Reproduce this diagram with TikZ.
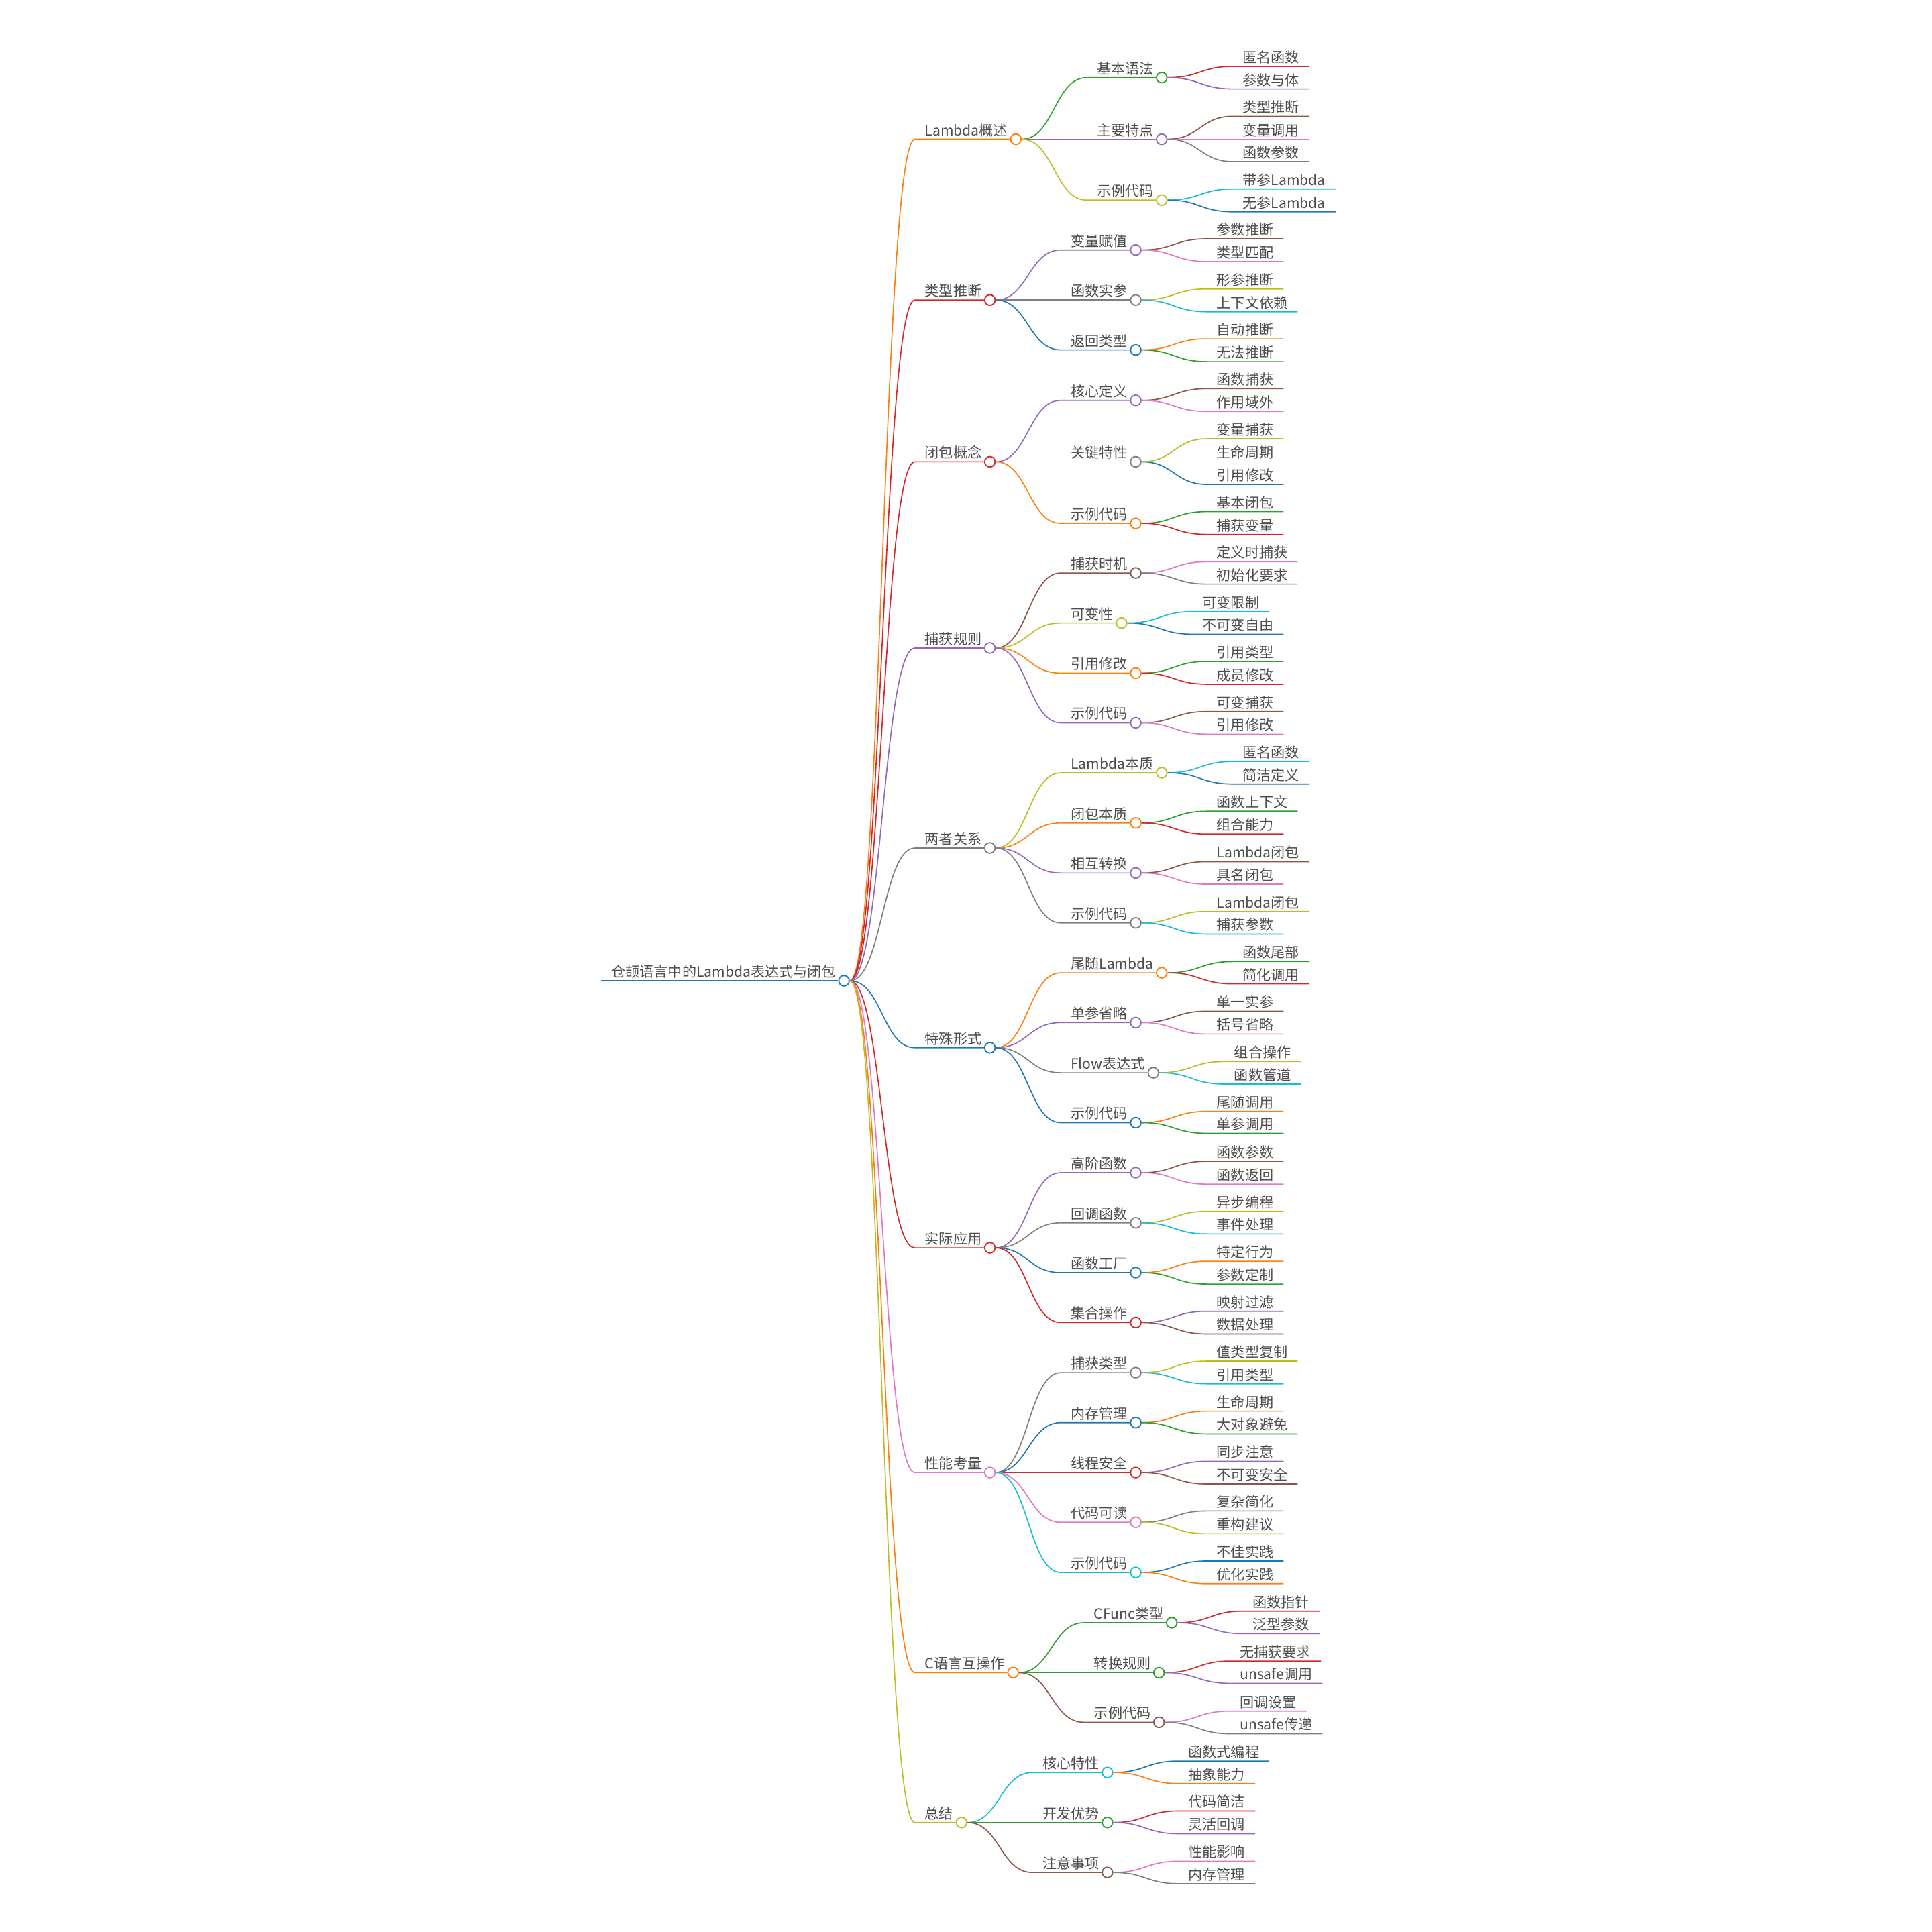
\documentclass[tikz,border=0pt]{standalone}
\usepackage{fontspec}
\setmainfont{Noto Sans CJK SC}
\usetikzlibrary{calc}
\definecolor{cblue}{HTML}{1F77B4}
\definecolor{corange}{HTML}{FF7F0E}
\definecolor{cgreen}{HTML}{2CA02C}
\definecolor{cred}{HTML}{D62728}
\definecolor{cpurple}{HTML}{9467BD}
\definecolor{cbrown}{HTML}{8C564B}
\definecolor{cpink}{HTML}{E377C2}
\definecolor{cgray}{HTML}{7F7F7F}
\definecolor{colive}{HTML}{BCBD22}
\definecolor{ccyan}{HTML}{17BECF}
\definecolor{txtc}{HTML}{4D4D4D}
\tikzset{
  lbl/.style={anchor=base west, inner xsep=8pt, inner ysep=0pt, text=txtc, font=\fontsize{11.5}{13}\selectfont},
  edge/.style={line width=0.9pt},
  dot/.style={circle, fill=white, line width=1pt, minimum size=8.5pt, inner sep=0pt},
}
\newcommand\mmleaf[5]{%
  \coordinate (#1a) at ($(#2c |- 0,#3)+(57.5,0)$);
  \node[lbl] (#1) at ([yshift=3pt]#1a) {#5};
  \draw[edge,#4] (#2c.east) .. controls +(26,0) and +(-26,0) .. (#1a) -- (#1a -| #1.east);
}
\newcommand\mmmid[5]{%
  \coordinate (#1a) at ($(#2c |- 0,#3)+(57.5,0)$);
  \node[lbl] (#1) at ([yshift=3pt]#1a) {#5};
  \node[dot,draw=#4] (#1c) at ($(#1a -| #1.east)+(-1.5,0)$) {};
  \draw[edge,#4] (#2c.east) .. controls +(26,0) and +(-26,0) .. (#1a) -- (#1c.west);
}
\begin{document}
\begin{tikzpicture}[x=1pt,y=-1pt]
\fill[white] (0,0) rectangle (1568,1568);
\useasboundingbox (0,0) rectangle (1568,1568);
% root
\coordinate (Ra) at (488,796);
\node[lbl] (R) at ([yshift=3pt]Ra) {仓颉语言中的Lambda表达式与闭包};
\node[dot,draw=cblue] (Rc) at ($(Ra -| R.east)+(-1.5,0)$) {};
\draw[cblue, line width=1.3pt] (Ra) -- (Rc.west);
% A
\mmmid{A}{R}{113}{corange}{Lambda概述}
\mmmid{A1}{A}{63}{cgreen}{基本语法}
\mmleaf{A1p}{A1}{53.9}{cred}{匿名函数}
\mmleaf{A1q}{A1}{72.2}{cpurple}{参数与体}
\mmmid{A2}{A}{113}{cpurple}{主要特点}
\mmleaf{A2p}{A2}{94.4}{cbrown}{类型推断}
\mmleaf{A2q}{A2}{113}{cpink}{变量调用}
\mmleaf{A2r}{A2}{131.2}{cgray}{函数参数}
\mmmid{A3}{A}{162.4}{colive}{示例代码}
\mmleaf{A3p}{A3}{153.4}{ccyan}{带参Lambda}
\mmleaf{A3q}{A3}{171.9}{cblue}{无参Lambda}
% B
\mmmid{B}{R}{243.5}{cred}{类型推断}
\mmmid{B1}{B}{202.9}{cpurple}{变量赋值}
\mmleaf{B1p}{B1}{193.8}{cbrown}{参数推断}
\mmleaf{B1q}{B1}{212.3}{cpink}{类型匹配}
\mmmid{B2}{B}{243.5}{cgray}{函数实参}
\mmleaf{B2p}{B2}{234.5}{colive}{形参推断}
\mmleaf{B2q}{B2}{253.0}{ccyan}{上下文依赖}
\mmmid{B3}{B}{284.0}{cblue}{返回类型}
\mmleaf{B3p}{B3}{275.0}{corange}{自动推断}
\mmleaf{B3q}{B3}{293.5}{cgreen}{无法推断}
% C
\mmmid{C}{R}{374.8}{cred}{闭包概念}
\mmmid{C1}{C}{324.9}{cpurple}{核心定义}
\mmleaf{C1p}{C1}{315.4}{cbrown}{函数捕获}
\mmleaf{C1q}{C1}{333.9}{cpink}{作用域外}
\mmmid{C2}{C}{374.8}{cgray}{关键特性}
\mmleaf{C2p}{C2}{356.1}{colive}{变量捕获}
\mmleaf{C2q}{C2}{374.8}{ccyan}{生命周期}
\mmleaf{C2r}{C2}{393.1}{cblue}{引用修改}
\mmmid{C3}{C}{424.7}{corange}{示例代码}
\mmleaf{C3p}{C3}{415.2}{cgreen}{基本闭包}
\mmleaf{C3q}{C3}{433.7}{cred}{捕获变量}
% D
\mmmid{D}{R}{525.9}{cpurple}{捕获规则}
\mmmid{D1}{D}{465.0}{cbrown}{捕获时机}
\mmleaf{D1p}{D1}{455.9}{cpink}{定义时捕获}
\mmleaf{D1q}{D1}{474.0}{cgray}{初始化要求}
\mmmid{D2}{D}{505.6}{colive}{可变性}
\mmleaf{D2p}{D2}{496.4}{ccyan}{可变限制}
\mmleaf{D2q}{D2}{514.7}{cblue}{不可变自由}
\mmmid{D3}{D}{546.3}{corange}{引用修改}
\mmleaf{D3p}{D3}{536.8}{cgreen}{引用类型}
\mmleaf{D3q}{D3}{555.3}{cred}{成员修改}
\mmmid{D4}{D}{586.6}{cpurple}{示例代码}
\mmleaf{D4p}{D4}{577.5}{cbrown}{可变捕获}
\mmleaf{D4q}{D4}{595.8}{cpink}{引用修改}
% E
\mmmid{E}{R}{688.2}{cgray}{两者关系}
\mmmid{E1}{E}{627.2}{colive}{Lambda本质}
\mmleaf{E1p}{E1}{618.0}{ccyan}{匿名函数}
\mmleaf{E1q}{E1}{636.3}{cblue}{简洁定义}
\mmmid{E2}{E}{667.9}{corange}{闭包本质}
\mmleaf{E2p}{E2}{658.4}{cgreen}{函数上下文}
\mmleaf{E2q}{E2}{676.9}{cred}{组合能力}
\mmmid{E3}{E}{708.5}{cpurple}{相互转换}
\mmleaf{E3p}{E3}{699.3}{cbrown}{Lambda闭包}
\mmleaf{E3q}{E3}{717.6}{cpink}{具名闭包}
\mmmid{E4}{E}{749.0}{cgray}{示例代码}
\mmleaf{E4p}{E4}{739.7}{colive}{Lambda闭包}
\mmleaf{E4q}{E4}{758.1}{ccyan}{捕获参数}
% F
\mmmid{F}{R}{850.3}{cblue}{特殊形式}
\mmmid{F1}{F}{789.5}{corange}{尾随Lambda}
\mmleaf{F1p}{F1}{780.4}{cgreen}{函数尾部}
\mmleaf{F1q}{F1}{798.5}{cred}{简化调用}
\mmmid{F2}{F}{829.9}{cpurple}{单参省略}
\mmleaf{F2p}{F2}{820.7}{cbrown}{单一实参}
\mmleaf{F2q}{F2}{839.2}{cpink}{括号省略}
\mmmid{F3}{F}{870.6}{cgray}{Flow表达式}
\mmleaf{F3p}{F3}{861.5}{colive}{组合操作}
\mmleaf{F3q}{F3}{879.8}{ccyan}{函数管道}
\mmmid{F4}{F}{911.1}{cblue}{示例代码}
\mmleaf{F4p}{F4}{902.0}{corange}{尾随调用}
\mmleaf{F4q}{F4}{919.8}{cgreen}{单参调用}
% G
\mmmid{G}{R}{1012.7}{cred}{实际应用}
\mmmid{G1}{G}{951.7}{cpurple}{高阶函数}
\mmleaf{G1p}{G1}{942.5}{cbrown}{函数参数}
\mmleaf{G1q}{G1}{961.0}{cpink}{函数返回}
\mmmid{G2}{G}{992.4}{cgray}{回调函数}
\mmleaf{G2p}{G2}{983.1}{colive}{异步编程}
\mmleaf{G2q}{G2}{1001.4}{ccyan}{事件处理}
\mmmid{G3}{G}{1032.8}{cblue}{函数工厂}
\mmleaf{G3p}{G3}{1023.6}{corange}{特定行为}
\mmleaf{G3q}{G3}{1042.1}{cgreen}{参数定制}
\mmmid{G4}{G}{1073.3}{cred}{集合操作}
\mmleaf{G4p}{G4}{1064.2}{cpurple}{映射过滤}
\mmleaf{G4q}{G4}{1082.6}{cbrown}{数据处理}
% H
\mmmid{H}{R}{1195.1}{cpink}{性能考量}
\mmmid{H1}{H}{1114.0}{cgray}{捕获类型}
\mmleaf{H1p}{H1}{1104.7}{colive}{值类型复制}
\mmleaf{H1q}{H1}{1123.0}{ccyan}{引用类型}
\mmmid{H2}{H}{1154.6}{cblue}{内存管理}
\mmleaf{H2p}{H2}{1145.3}{corange}{生命周期}
\mmleaf{H2q}{H2}{1163.7}{cgreen}{大对象避免}
\mmmid{H3}{H}{1195.1}{cred}{线程安全}
\mmleaf{H3p}{H3}{1186.0}{cpurple}{同步注意}
\mmleaf{H3q}{H3}{1204.3}{cbrown}{不可变安全}
\mmmid{H4}{H}{1235.5}{cpink}{代码可读}
\mmleaf{H4p}{H4}{1226.3}{cgray}{复杂简化}
\mmleaf{H4q}{H4}{1244.8}{colive}{重构建议}
\mmmid{H5}{H}{1276.2}{ccyan}{示例代码}
\mmleaf{H5p}{H5}{1266.9}{cblue}{不佳实践}
\mmleaf{H5q}{H5}{1285.3}{corange}{优化实践}
% I
\mmmid{I}{R}{1357.5}{corange}{C语言互操作}
\mmmid{I1}{I}{1317.0}{cgreen}{CFunc类型}
\mmleaf{I1p}{I1}{1307.6}{cred}{函数指针}
\mmleaf{I1q}{I1}{1325.9}{cpurple}{泛型参数}
\mmmid{I2}{I}{1357.5}{cgreen}{转换规则}
\mmleaf{I2p}{I2}{1348.1}{cred}{无捕获要求}
\mmleaf{I2q}{I2}{1366.2}{cpurple}{unsafe调用}
\mmmid{I3}{I}{1397.8}{cbrown}{示例代码}
\mmleaf{I3p}{I3}{1388.7}{cpink}{回调设置}
\mmleaf{I3q}{I3}{1407.1}{cgray}{unsafe传递}
% J
\mmmid{J}{R}{1479.1}{colive}{总结}
\mmmid{J1}{J}{1438.5}{ccyan}{核心特性}
\mmleaf{J1p}{J1}{1429.2}{cblue}{函数式编程}
\mmleaf{J1q}{J1}{1447.5}{corange}{抽象能力}
\mmmid{J2}{J}{1479.1}{cgreen}{开发优势}
\mmleaf{J2p}{J2}{1469.7}{cred}{代码简洁}
\mmleaf{J2q}{J2}{1488.2}{cpurple}{灵活回调}
\mmmid{J3}{J}{1519.6}{cbrown}{注意事项}
\mmleaf{J3p}{J3}{1510.5}{cpink}{性能影响}
\mmleaf{J3q}{J3}{1528.7}{cgray}{内存管理}
\end{tikzpicture}
\end{document}
